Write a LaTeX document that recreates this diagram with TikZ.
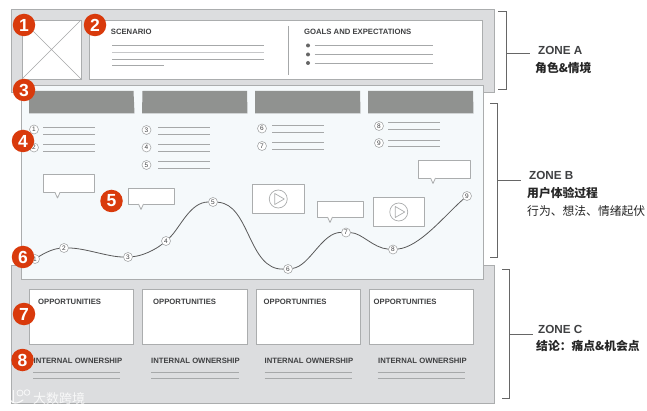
\documentclass[tikz,border=0pt]{standalone}
\usepackage{fontspec}
\setmainfont{Liberation Sans}
\newfontfamily\cjk{Noto Sans CJK SC}
\usetikzlibrary{calc}
\definecolor{zonegray}{HTML}{DCDDDF}
\definecolor{edgegray}{HTML}{ABADAE}
\definecolor{linegray}{HTML}{A6A8A9}
\definecolor{barygray}{HTML}{909290}
\definecolor{paleblue}{HTML}{F5F9FB}
\definecolor{badgered}{HTML}{D93A0C}
\definecolor{inkgray}{HTML}{3F4042}
\tikzset{
  zone/.style={draw=edgegray,line width=0.9pt,fill=zonegray},
  panel/.style={draw=edgegray,line width=0.9pt,fill=white},
  rule/.style={draw=linegray,line width=0.8pt},
  bubble/.style={draw=edgegray,line width=0.8pt,fill=white,line join=round},
  headbar/.style={fill=barygray,draw=none},
  badge/.style={circle,fill=badgered,text=white,minimum size=22.5pt,inner sep=0pt,font=\fontsize{17.5}{17.5}\selectfont\bfseries},
  num/.style={circle,draw=linegray,line width=0.6pt,fill=white,text=inkgray,minimum size=9pt,inner sep=0pt,font=\fontsize{6.5}{6.5}\selectfont},
  head/.style={anchor=base west,inner sep=0pt,text=inkgray,font=\fontsize{7.7}{8}\selectfont\bfseries},
  zonename/.style={anchor=base west,inner sep=0pt,text=inkgray,font=\fontsize{11.7}{12}\selectfont\bfseries},
  zonetext/.style={anchor=west,inner sep=0pt,text=black!85,font=\fontsize{11.8}{12}\selectfont\cjk},
  zonebold/.style={zonetext,font=\fontsize{11.8}{12}\selectfont\cjk\bfseries},
  bracket/.style={draw=black!60,line width=0.9pt},
  curveline/.style={draw=black!65,line width=0.8pt},
  mark text/.style={anchor=west,inner sep=0pt,text=white,opacity=0.8,font=\fontsize{13}{13}\selectfont\cjk}
}
\newcommand{\twolines}[4]{% x1,x2,y1,y2
  \draw[rule] (#1,#3) -- (#2,#3);
  \draw[rule] (#1,#4) -- (#2,#4);}
\newcommand{\speech}[5]{% x1,y1,x2,y2,px
  \draw[bubble] (#1,#2) rectangle (#3,#4);
  \filldraw[bubble] (#5-2.5,#4) -- (#5,#4+5.5) -- (#5+2.5,#4);
  \draw[white,line width=1pt] (#5-1.8,#4) -- (#5+1.8,#4);}
\newcommand{\videobox}[5]{% x1,y1,x2,y2 and name
  \draw[bubble] (#1,#2) rectangle (#3,#4);
  \coordinate (#5) at ({(#1+#3)/2},{(#2+#4)/2});
  \draw[edgegray,line width=0.7pt] (#5) circle (9);
  \draw[edgegray,line width=0.7pt,line join=round] ($(#5)+(-3.5,-5.5)$) -- ($(#5)+(6,0)$) -- ($(#5)+(-3.5,5.5)$) -- cycle;}
\begin{document}
\begin{tikzpicture}[x=1pt,y=-1pt]
\useasboundingbox (0,0) rectangle (647,411);
\fill[white] (0,0) rectangle (647,411);
% zones
\draw[zone] (11,9.5) rectangle (494,92);
\draw[zone] (11,265) rectangle (494,403);
\draw[draw=edgegray,line width=0.9pt,fill=paleblue] (21.5,85) rectangle (483,279);
% zone A
\draw[panel] (22,20) rectangle (81,79);
\draw[draw=linegray,line width=0.6pt] (22,20) -- (81,79) (81,20) -- (22,79);
\draw[panel] (89.5,20.5) rectangle (482.5,79.5);
\draw[rule] (288.5,26) -- (288.5,75.5);
\node[head] (scen) at (110.7,34.3) {SCENARIO};
\node[head] (goals) at (304,34.3) {GOALS AND EXPECTATIONS};
\draw[rule] (112,45) -- (264,45);
\draw[rule,draw=zonegray!90!black] (112,52) -- (264,52);
\draw[rule] (112,59) -- (264,59);
\draw[rule] (112,65.5) -- (164,65.5);
\foreach \yy in {45.5,54.5,63}{
  \fill[black!60] (308,\yy) circle (2);
  \draw[rule] (314.5,\yy) -- (433,\yy);
}
% header bars
\fill[headbar] (29,91) -- (133.5,91) -- (134.5,113.5) -- (29,113.5) -- cycle;
\fill[headbar] (142.5,91) -- (247,91) -- (247.5,113.5) -- (142,113.5) -- cycle;
\fill[headbar] (255,91) -- (360,91) -- (360.5,113.5) -- (255,113.5) -- cycle;
\fill[headbar] (368,91) -- (473,91) -- (473.5,113.5) -- (368,113.5) -- cycle;
% numbered lists
\node[num] (a1) at (34,129.5) {1};
\twolines{43}{95}{127}{134}
\node[num] (a2) at (34,147.5) {2};
\twolines{43}{95}{144.5}{151.5}
\node[num] (a3) at (146.5,130) {3};
\twolines{158}{210}{127}{134}
\node[num] (a4) at (146.5,147.5) {4};
\twolines{158}{210}{144.5}{151.5}
\node[num] (a5) at (146.5,165) {5};
\twolines{158}{210}{161.5}{168}
\node[num] (a6) at (262,128.5) {6};
\twolines{272}{324}{125.5}{132}
\node[num] (a7) at (262,146) {7};
\twolines{272}{324}{142.5}{149.5}
\node[num] (a8) at (379,126) {8};
\twolines{388}{440}{122.5}{129}
\node[num] (a9) at (379,143) {9};
\twolines{388}{440}{140}{146.5}
% speech bubbles
\speech{43.5}{174.5}{94.5}{192.5}{57.5}
\speech{128.5}{188.5}{174.5}{204}{141}
\speech{317.5}{201}{363.5}{217}{330}
\speech{418.5}{160.5}{470}{178}{433}
% videos
\videobox{252.5}{184.5}{304}{213.5}{v1}
\videobox{373}{197.5}{424.5}{226.5}{v2}
% curve nodes
\node[num] (c1) at (35,259) {1};
\node[num] (c2) at (64,248) {2};
\node[num] (c3) at (128,257) {3};
\node[num] (c4) at (166,241) {4};
\node[num] (c5) at (213,202) {5};
\node[num] (c6) at (288,269) {6};
\node[num] (c7) at (346,232.5) {7};
\node[num] (c8) at (393,249.5) {8};
\node[num] (c9) at (467,196) {9};
\draw[curveline] (c1) .. controls (43,254) and (52,249) .. (c2);
\draw[curveline] (c2) .. controls (85,248) and (108,257) .. (c3);
\draw[curveline] (c3) .. controls (142,256) and (155,250) .. (c4);
\draw[curveline] (c4) .. controls (180,228) and (190,202) .. (c5);
\draw[curveline] (c5) .. controls (250,204) and (248,270) .. (c6);
\draw[curveline] (c6) .. controls (310,266) and (322,232) .. (c7);
\draw[curveline] (c7) .. controls (362,233) and (373,248) .. (c8);
\draw[curveline] (c8) .. controls (420,247) and (445,215) .. (c9);
% zone C
\foreach \xa/\xb/\tx in {29/133.5/38,142.5/247/153,256.5/360/263.5,369/473.5/373.5}{
  \draw[panel] (\xa,289.5) rectangle (\xb,344.5);
  \node[head] at (\tx,304) {OPPORTUNITIES};
}
\foreach \xa/\xb/\tx in {33/120/33.5,151/239/151,264.5/352/264.5,377.5/465/378}{
  \node[head] at (\tx,363) {INTERNAL OWNERSHIP};
  \draw[rule] (\xa,372.5) -- (\xb,372.5);
  \draw[rule] (\xa,378.5) -- (\xb,378.5);
}
% badges
\node[badge] (b1) at (24,25) {1};
\node[badge] (b2) at (95,25) {2};
\node[badge] (b3) at (24,90) {3};
\node[badge] (b4) at (23,141) {4};
\node[badge] (b5) at (111.5,201) {5};
\node[badge] (b6) at (23,257) {6};
\node[badge] (b7) at (24,314) {7};
\node[badge] (b8) at (22.5,360) {8};
% brackets
\coordinate (ma) at (506,53);
\draw[bracket] (498,11) -- (506,11) -- (506,89.5) -- (498,89.5);
\coordinate (ea) at (530,53);
\draw[bracket] (ma) -- (ea);
\node[zonename] (za) at (538,55) {ZONE A};
\node[zonebold] (ta) at (535,68.5) {角色\&情境};
\coordinate (mb) at (497,180);
\coordinate (eb) at (521,180);
\draw[bracket] (490,103.5) -- (497,103.5) -- (497,257) -- (490,257);
\draw[bracket] (mb) -- (eb);
\node[zonename] (zb) at (529,180) {ZONE B};
\node[zonebold] (tb) at (527,193) {用户体验过程};
\node[zonetext] (tb2) at (527,211.5) {行为、想法、情绪起伏};
\coordinate (mc) at (509,334);
\coordinate (ec) at (533,334);
\draw[bracket] (502,269.5) -- (509,269.5) -- (509,398) -- (502,398);
\draw[bracket] (mc) -- (ec);
\node[zonename] (zc) at (538,333.5) {ZONE C};
\node[zonebold] (tc) at (536,346) {结论：痛点\&机会点};
% watermark
\node[mark text] (wm) at (33,398.5) {大数跨境};
\draw[white,opacity=0.8,line width=1.2pt,line cap=round] (9.5,392) .. controls (8,403) and (15,406) .. (23,400);
\draw[white,opacity=0.8,line width=1pt] (13,390) -- (13,403);
\draw[white,opacity=0.8,line width=0.8pt] (20,393) circle (3) (27,392.5) circle (2.8);
\end{tikzpicture}
\end{document}
